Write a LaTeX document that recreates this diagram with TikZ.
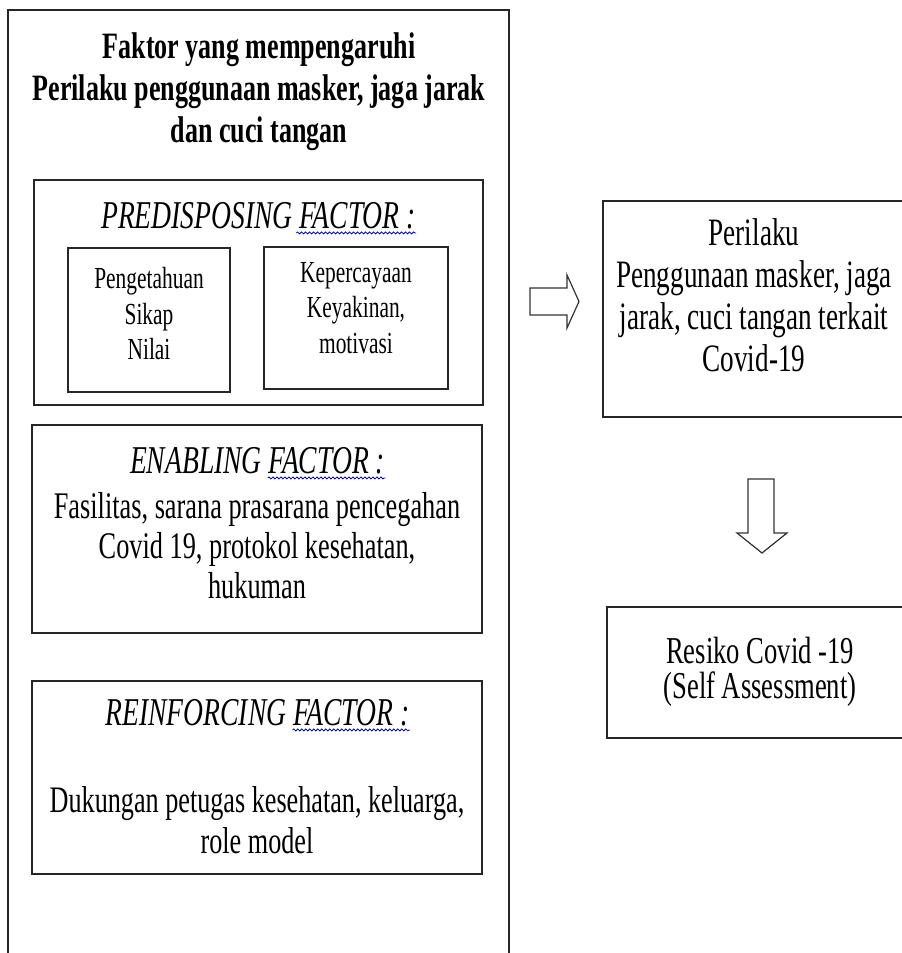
\documentclass[tikz,border=0pt]{standalone}
\usepackage{fontspec}
\setmainfont[FakeStretch=0.7]{Liberation Serif}
\usetikzlibrary{fit,calc,decorations.pathmorphing}
\begin{document}
\begin{tikzpicture}[x=0.5pt,y=-0.5pt,
  boxline/.style={draw=black!85,line width=0.8pt,inner sep=0pt},
  txt/.style={inner sep=0pt,align=center,anchor=north},
  headtxt/.style={txt,font=\itshape\fontsize{19.7}{21}\selectfont},
  wavy/.style={draw=blue!75!black,line width=0.4pt,decorate,decoration={snake,amplitude=0.5pt,segment length=2pt}},
  blockarr/.style={draw=black!80,line width=0.6pt,line join=miter}]
\useasboundingbox (0,0) rectangle (901,953);
\node[boxline,fit={(8,10) (509,990)}] (frame) {};
\node[txt,font=\bfseries\fontsize{18.6}{21}\selectfont] (title) at (259,32) {Faktor yang mempengaruhi\\Perilaku penggunaan masker, jaga jarak\\dan cuci tangan};
\node[boxline,fit={(34,180) (483,405)}] (predis) {};
\node[headtxt] (predHead) at (258.5,202.5) {PREDISPOSING FACTOR :};
\draw[wavy] ($(predHead.south west)!0.62!(predHead.south east)+(0,3)$) -- ($(predHead.south east)+(0,3)$);
\node[boxline,fit={(68,248) (230,392)}] (predA) {};
\node[txt,font=\fontsize{15.3}{17.75}\selectfont] (predAtxt) at (149,267) {Pengetahuan\\Sikap\\Nilai};
\node[boxline,fit={(264,247) (448,389)}] (predB) {};
\node[txt,font=\fontsize{15.3}{17.75}\selectfont] (predBtxt) at (356,262) {Kepercayaan\\Keyakinan,\\motivasi};
\node[boxline,fit={(32,425) (482,633)}] (enab) {};
\node[headtxt] (enabHead) at (257.5,447.5) {ENABLING FACTOR :};
\draw[wavy] ($(enabHead.south west)!0.54!(enabHead.south east)+(0,3)$) -- ($(enabHead.south east)+(0,3)$);
\node[txt,font=\fontsize{18.8}{20}\selectfont] (enabtxt) at (257,492) {Fasilitas, sarana prasarana pencegahan\\Covid 19, protokol kesehatan,\\hukuman};
\node[boxline,fit={(32,681) (482,874)}] (reinf) {};
\node[headtxt] (reinfHead) at (257.5,699.5) {REINFORCING FACTOR :};
\draw[wavy] ($(reinfHead.south west)!0.615!(reinfHead.south east)+(0,3)$) -- ($(reinfHead.south east)+(0,3)$);
\node[txt,font=\fontsize{18.7}{20.5}\selectfont] (reinftxt) at (257,786) {Dukungan petugas kesehatan, keluarga,\\role model};
\node[boxline,fit={(603,201) (929,417)}] (perilaku) {};
\node[txt,font=\fontsize{19.4}{21}\selectfont] (perilakutxt) at (754,218) {Perilaku\\Penggunaan masker, jaga\\jarak, cuci tangan terkait\\Covid-19};
\node[boxline,fit={(607,607) (913,738)}] (resiko) {};
\node[txt,font=\fontsize{19}{17.5}\selectfont] (resikotxt) at (760,637) {Resiko Covid -19\\(Self Assessment)};
\draw[blockarr] (530,288) -- (567,288) -- (567,275) -- (579,301.5) -- (567,328) -- (567,315) -- (530,315) -- cycle;
\draw[blockarr] (748,479) -- (774,479) -- (774,533) -- (787,533) -- (762,553) -- (737,533) -- (748,533) -- cycle;
\end{tikzpicture}
\end{document}
